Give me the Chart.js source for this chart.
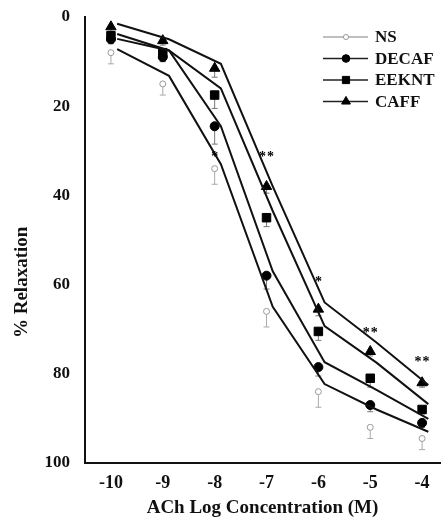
<!DOCTYPE html>
<html>
<head>
<meta charset="utf-8">
<script src="https://cdn.jsdelivr.net/npm/chart.js@4.4.1/dist/chart.umd.min.js"></script>
<style>
  html, body { margin: 0; padding: 0; background: #fff; }
  #wrap { width: 447px; height: 527px; }
</style>
</head>
<body>
<div id="wrap"><canvas id="chart"></canvas></div>
<script>
// --- DATA ---
const concentrations = [-10, -9, -8, -7, -6, -5, -4];
const xTicks = [-10, -9, -8, -7, -6, -5, -4];
const yTicks = [0, 20, 40, 60, 80, 100];
const seriesNames = ['NS', 'DECAF', 'EEKNT', 'CAFF'];

// mean % relaxation (markers)
const nsMean    = [8, 15, 34, 66, 84, 92, 94.5];
const decafMean = [5, 9, 24.5, 58, 78.5, 87, 91];
const eekntMean = [4.2, 8, 17.5, 45, 70.5, 81, 88];
const caffMean  = [2.2, 5.3, 11.5, 38, 65.5, 75, 82];

// SEM (bars drawn below the marker)
const nsErr    = [2.5, 2.5, 3.5, 3.5, 3.5, 2.5, 2.5];
const decafErr = [1, 1, 4, 3, 2, 1.5, 1];
const eekntErr = [1, 2, 3, 2, 2, 2, 1];
const caffErr  = [1, 1, 2, 1.5, 1.5, 1, 1];

// fitted curves
const nsFit    = [7.2, 13.2, 33, 65, 82.3, 88, 93];
const decafFit = [4.9, 7.5, 24.5, 57, 77.4, 83.6, 90.1];
const eekntFit = [3.8, 7.5, 16, 43.5, 69.3, 77.5, 86.8];
const caffFit  = [1.5, 5, 10.5, 38, 64, 73, 82.5];

// significance marks
const starX = [-8, -7, -6, -5, -4];
const starY = [31.5, 31.5, 59.5, 71, 77.5];
const starText = ['*', '**', '*', '**', '**'];

// --- STYLE ---
const FONT = "'Liberation Serif', 'Times New Roman', serif";
const FIT_SHIFT = 0.12; // curves sit a little right of the markers in the original

const pts = (xs, ys, dx = 0) => xs.map((x, i) => ({ x: x + dx, y: ys[i] }));

function fitSet(values) {
    return {
        data: pts(concentrations, values, FIT_SHIFT),
        showLine: true,
        borderColor: '#111',
        borderWidth: 2,
        pointRadius: 0
    };
}

function markerSet(values, errs, style) {
    return Object.assign({
        data: pts(concentrations, values),
        showLine: false,
        errors: errs
    }, style);
}

const markerStyles = [
    { pointStyle: 'circle', pointRadius: 3, backgroundColor: '#fff', borderColor: '#999', borderWidth: 1, errColor: '#aaa', legendLine: '#aaa' },
    { pointStyle: 'circle', pointRadius: 4.5, backgroundColor: '#000', borderColor: '#000', borderWidth: 1, errColor: '#777', legendLine: '#222' },
    { pointStyle: 'rect', pointRadius: 6, backgroundColor: '#000', borderColor: '#000', borderWidth: 1, errColor: '#777', legendLine: '#222' },
    { pointStyle: 'triangle', pointRadius: 6, backgroundColor: '#000', borderColor: '#000', borderWidth: 1, errColor: '#777', legendLine: '#222' }
];

const means = [nsMean, decafMean, eekntMean, caffMean];
const errs = [nsErr, decafErr, eekntErr, caffErr];
const fits = [nsFit, decafFit, eekntFit, caffFit];

const datasets = [];
fits.forEach(f => datasets.push(fitSet(f)));
means.forEach((m, i) => datasets.push(markerSet(m, errs[i], markerStyles[i])));

// --- PLUGINS ---
const errorBars = {
    id: 'errorBars',
    beforeDatasetsDraw(chart) {
        const ctx = chart.ctx;
        const yScale = chart.scales.y;
        chart.data.datasets.forEach((ds, i) => {
            if (!ds.errors) return;
            const meta = chart.getDatasetMeta(i);
            ctx.save();
            ctx.strokeStyle = ds.errColor;
            ctx.lineWidth = 1;
            meta.data.forEach((pt, j) => {
                const y1 = yScale.getPixelForValue(ds.data[j].y);
                const y2 = yScale.getPixelForValue(ds.data[j].y + ds.errors[j]);
                ctx.beginPath();
                ctx.moveTo(pt.x, y1);
                ctx.lineTo(pt.x, y2);
                ctx.moveTo(pt.x - 3, y2);
                ctx.lineTo(pt.x + 3, y2);
                ctx.stroke();
            });
            ctx.restore();
        });
    }
};

const extras = {
    id: 'extras',
    afterDraw(chart) {
        const ctx = chart.ctx;
        const xs = chart.scales.x, ys = chart.scales.y;

        // stars
        ctx.save();
        ctx.fillStyle = '#000';
        ctx.font = 'bold 14px ' + FONT;
        ctx.textAlign = 'center';
        ctx.textBaseline = 'middle';
        starText.forEach((t, i) => {
            const cx = xs.getPixelForValue(starX[i]);
            const cy = ys.getPixelForValue(starY[i]);
            const n = t.length;
            for (let k = 0; k < n; k++) {
                ctx.fillText('*', cx + (k - (n - 1) / 2) * 8, cy);
            }
        });
        ctx.restore();

        // y axis title
        ctx.save();
        ctx.fillStyle = '#111';
        ctx.font = 'bold 19px ' + FONT;
        ctx.textAlign = 'center';
        ctx.textBaseline = 'middle';
        ctx.translate(22, ys.getPixelForValue(59.5));
        ctx.rotate(-Math.PI / 2);
        ctx.fillText('% Relaxation', 0, 0);
        ctx.restore();

        // legend: line - marker - line
        ctx.save();
        ctx.font = 'bold 17px ' + FONT;
        ctx.textBaseline = 'middle';
        seriesNames.forEach((name, i) => {
            const st = markerStyles[i];
            const y = 37 + i * 21.5;
            ctx.strokeStyle = st.legendLine;
            ctx.lineWidth = 1.5;
            ctx.beginPath();
            ctx.moveTo(323, y);
            ctx.lineTo(368, y);
            ctx.stroke();
            ctx.fillStyle = st.backgroundColor;
            ctx.strokeStyle = st.borderColor;
            ctx.lineWidth = st.borderWidth;
            Chart.helpers.drawPoint(ctx, { pointStyle: st.pointStyle, radius: st.pointRadius * 0.85, borderWidth: st.borderWidth, rotation: 0 }, 346, y);
            ctx.fillStyle = '#111';
            ctx.fillText(name, 375, y + 1);
        });
        ctx.restore();
    }
};

// --- CHART ---
new Chart(document.getElementById('chart'), {
    type: 'scatter',
    data: { datasets: datasets },
    options: {
        responsive: true,
        maintainAspectRatio: false,
        animation: false,
        events: [],
        layout: { padding: { top: 17, right: -7, left: 0, bottom: 0 } },
        plugins: { legend: { display: false }, tooltip: { enabled: false } },
        scales: {
            x: {
                type: 'linear',
                min: -10.5,
                max: -3.655,
                afterBuildTicks: s => { s.ticks = xTicks.map(v => ({ value: v })); },
                afterFit: s => { s.height = 64; s.paddingRight = 0; s.paddingLeft = 0; },
                grid: { display: false, drawTicks: false },
                border: { display: true, color: '#111', width: 2 },
                ticks: { color: '#111', padding: 10, font: { family: FONT, size: 18, weight: 'bold' } },
                title: {
                    display: true,
                    text: 'ACh Log Concentration (M)',
                    color: '#111',
                    padding: { top: 0, bottom: 8 },
                    font: { family: FONT, size: 19, weight: 'bold' }
                }
            },
            y: {
                reverse: true,
                min: 0,
                max: 100,
                afterBuildTicks: s => { s.ticks = yTicks.map(v => ({ value: v })); },
                afterFit: s => { s.width = 85; s.paddingTop = 0; s.paddingBottom = 0; },
                grid: { display: false, drawTicks: false },
                border: { display: true, color: '#111', width: 2 },
                ticks: { color: '#111', padding: 15, font: { family: FONT, size: 17, weight: 'bold' } }
            }
        }
    },
    plugins: [errorBars, extras]
});
</script>
</body>
</html>
